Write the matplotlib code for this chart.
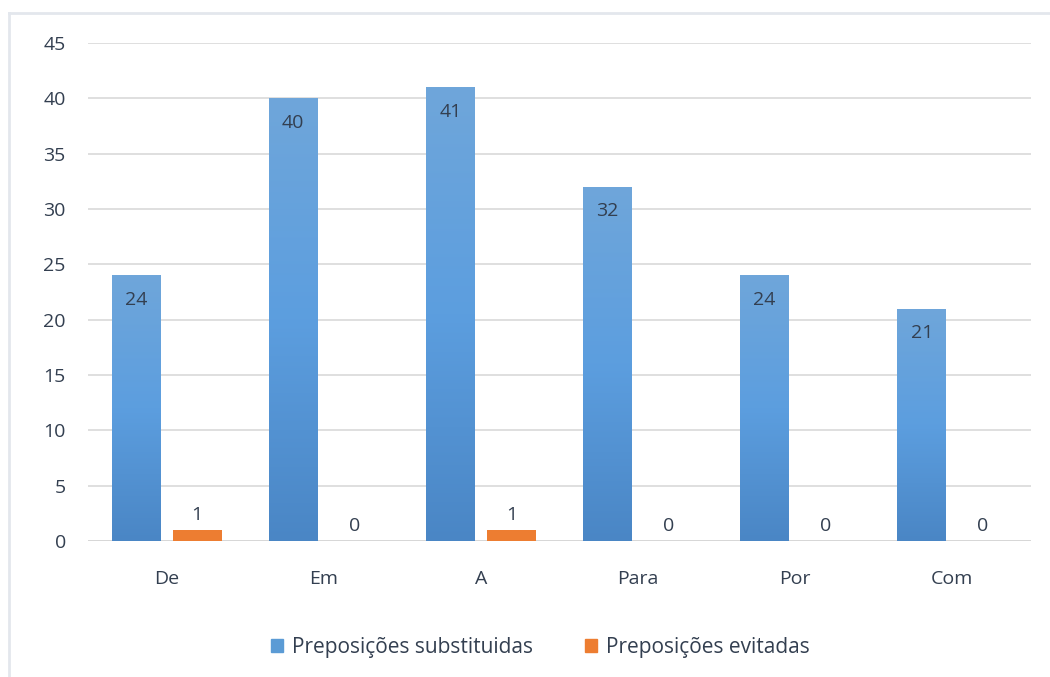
import matplotlib.pyplot as plt
import matplotlib.colors as mcolors
from matplotlib.lines import Line2D
from matplotlib.patches import Patch
import numpy as np

plt.rcParams['font.family'] = ['Open Sans', 'DejaVu Sans']

categorias = ['De', 'Em', 'A', 'Para', 'Por', 'Com']
substituidas = [24, 40, 41, 32, 24, 21]
evitadas = [1, 0, 1, 0, 0, 0]

texto = '#333F50'
grade = '#D9D9D9'
azul = '#5B9BD5'
laranja = '#ED7D31'

fig = plt.figure(figsize=(10.5, 6.77), dpi=100)
ax = fig.add_axes([88 / 1050, 1 - 541 / 677, 943 / 1050, 498 / 677])

x = np.arange(len(categorias))
largura = 0.31
desloc = 0.195

barras_azuis = ax.bar(x - desloc, substituidas, largura, color=azul, zorder=2)
barras_laranja = ax.bar(x + desloc, evitadas, largura, color=laranja, zorder=2)

# gradiente nas barras azuis
grad = np.linspace(0, 1, 256).reshape(-1, 1)
cmap = mcolors.LinearSegmentedColormap.from_list('azul', ['#4A86C5', '#5C9EDF', '#6FA6DA'])
for b in barras_azuis:
    x0, y0 = b.get_x(), b.get_y()
    w, h = b.get_width(), b.get_height()
    im = ax.imshow(grad, extent=[x0, x0 + w, y0, y0 + h], origin='lower',
                   cmap=cmap, aspect='auto', zorder=2)
    im.set_clip_path(b)
    b.set_facecolor('none')

for b, v in zip(barras_azuis, substituidas):
    ax.text(b.get_x() + b.get_width() / 2, v - 1.4, str(v), ha='center', va='top',
            fontsize=14, color=texto, zorder=3)
for b, v in zip(barras_laranja, evitadas):
    ax.text(b.get_x() + b.get_width() / 2, v + 0.5, str(v), ha='center', va='bottom',
            fontsize=14, color=texto, zorder=3)

ax.set_xlim(-0.5, len(categorias) - 0.5)
ax.set_ylim(0, 45)
ax.set_yticks(range(0, 46, 5))
ax.set_xticks(x)
ax.set_xticklabels(categorias)
ax.tick_params(axis='both', length=0, labelsize=14, colors=texto)
ax.tick_params(axis='y', pad=16)
ax.tick_params(axis='x', pad=21)
ax.grid(axis='y', color=grade, linewidth=1.2, zorder=0)
for s in ax.spines.values():
    s.set_visible(False)
ax.axhline(0, color='#D0D0D0', linewidth=1.4, zorder=1)

ax.legend([Patch(color=azul), Patch(color=laranja)],
          ['Preposições substituidas', 'Preposições evitadas'],
          loc='center', bbox_to_anchor=(540 / 1050, 1 - 647 / 677),
          bbox_transform=fig.transFigure, ncol=2, frameon=False,
          fontsize=15, labelcolor=texto, handlelength=0.6, handleheight=0.6,
          handletextpad=0.4, columnspacing=2.5)

# borda do gráfico
fig.add_artist(Line2D([9 / 1050, 1], [1 - 13 / 677, 1 - 13 / 677],
                      color='#E3E7ED', linewidth=2, transform=fig.transFigure))
fig.add_artist(Line2D([9 / 1050, 9 / 1050], [0, 1 - 13 / 677],
                      color='#E3E7ED', linewidth=2, transform=fig.transFigure))

fig.savefig('out.png', dpi=100)
